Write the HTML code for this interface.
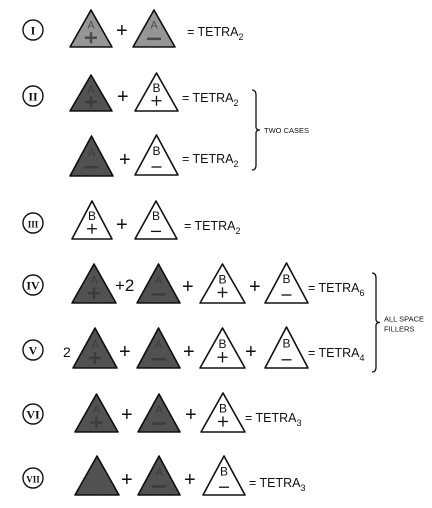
<!DOCTYPE html>
<html><head><meta charset="utf-8"><style>
html,body{margin:0;padding:0;background:#fff;}
svg{display:block;font-family:"Liberation Sans",sans-serif;}
</style></head><body>
<svg id="s" width="432" height="508" viewBox="0 0 432 508" xmlns="http://www.w3.org/2000/svg">
<defs>
<filter id="grain"><feTurbulence type="fractalNoise" baseFrequency="0.9" numOctaves="2" result="n"/><feColorMatrix type="saturate" values="0"/><feComponentTransfer><feFuncA type="linear" slope="0.35"/></feComponentTransfer><feComposite in2="SourceGraphic" operator="in"/><feBlend in="SourceGraphic" mode="multiply"/></filter>
</defs>
</svg>
<script>
const NS='http://www.w3.org/2000/svg';
const svg=document.getElementById('s');
function el(tag,attrs,parent){const e=document.createElementNS(NS,tag);for(const k in attrs)e.setAttribute(k,attrs[k]);(parent||svg).appendChild(e);return e;}
function txt(x,y,s,size,parent,anchor){const t=el('text',{x:x,y:y,'font-size':size,fill:'#111','text-anchor':anchor||'start'},parent);t.textContent=s;return t;}
function tri(x,y,w,h,kind,sign){
  const g=el('g',{});
  
  
  const fill=kind==='light'?'#9c9c9c':(kind==='B'?'#fff':'#555');
  el('polygon',{points:`${x},${y+h} ${x+w/2},${y} ${x+w},${y+h}`,fill:fill,stroke:'#111','stroke-width':1.6,'stroke-linejoin':'round',filter:kind==='B'?'':'url(#grain)'},g);
  const cx=x+w/2;
  if(kind==='B'){
    txt(cx,y+h*0.5,'B',12,g,'middle');
    if(sign==='+'){el('line',{x1:cx-5,y1:y+h*0.73,x2:cx+5,y2:y+h*0.73,stroke:'#111','stroke-width':1.3},g);el('line',{x1:cx,y1:y+h*0.6,x2:cx,y2:y+h*0.86,stroke:'#111','stroke-width':1.3},g);}
    else el('line',{x1:cx-5,y1:y+h*0.8,x2:cx+5,y2:y+h*0.8,stroke:'#111','stroke-width':1.3},g);
  } else if(sign) {
    const c=kind==='light'?'#4a4a4a':'#3c3c3c';
    txt(cx,y+h*0.5,'A',11,g,'middle').setAttribute('fill',c);
    if(sign==='+'){el('line',{x1:cx-6,y1:y+h*0.75,x2:cx+6,y2:y+h*0.75,stroke:c,'stroke-width':2.5},g);el('line',{x1:cx,y1:y+h*0.6,x2:cx,y2:y+h*0.9,stroke:c,'stroke-width':2.5},g);}
    else el('line',{x1:cx-7,y1:y+h*0.78,x2:cx+7,y2:y+h*0.78,stroke:c,'stroke-width':2.5},g);
  }
}
function roman(cy,s,name){
  const g=el('g',{});
  
  
  el('circle',{cx:33,cy:cy,r:10,fill:'none',stroke:'#111','stroke-width':1.4},g);
  const t=txt(33,cy+4.5,s,s.length>2?9:12,g,'middle');t.setAttribute('font-family','Liberation Serif, serif');t.setAttribute('font-weight','bold');
}
function op(x,y,s,name,size){const t=txt(x,y,s,size||20);}
function result(x,y,sub,name){
  const t=el('text',{x:x,y:y,'font-size':12.5,fill:'#111'});
  
  
  t.textContent='= TETRA';
  const ts=el('tspan',{dy:4,'font-size':9},t);ts.textContent=sub;
}
// Row I
roman(30,'I','label-row-1');
tri(70,10,42,37,'light','+');op(116,37,'+','plus-sign');tri(133,10,42,37,'light','-');result(187,36,'2','result-row-1');
// Row II
roman(96,'II','label-row-2');
tri(70,75,42,36,'dark','+');op(117,103,'+','plus-sign');tri(135,73,43,38,'B','+');result(182,102,'2','result-row-2a');
tri(70,136,43,40,'dark','-');op(119,166,'+','plus-sign');tri(135,135,43,40,'B','-');result(182,163,'2','result-row-2b');
// Row III
roman(223,'III','label-row-3');
tri(72,201,40,38,'B','+');op(116,231,'+','plus-sign');tri(135,201,42,38,'B','-');result(184,230,'2','result-row-3');
// Row IV
roman(285,'IV','label-row-4');
tri(72,264,44,39,'dark','+');op(115,291,'+2','plus-two',17);tri(137,264,43,39,'dark','-');op(182,293,'+','plus-sign');tri(200,264,45,39,'B','+');op(249,293,'+','plus-sign');tri(265,263,43,40,'B','-');result(308,292,'6','result-row-4');
// Row V
roman(350,'V','label-row-5');
op(63,357,'2','coefficient-two',14);tri(73,328,44,40,'dark','+');op(119,358,'+','plus-sign');tri(137,328,43,40,'dark','-');op(183,358,'+','plus-sign');tri(200,328,45,40,'B','+');op(245,358,'+','plus-sign');tri(265,327,43,41,'B','-');result(308,357,'4','result-row-5');
// Row VI
roman(414,'VI','label-row-6');
tri(75,394,43,38,'dark','+');op(121,421,'+','plus-sign');tri(138,394,42,38,'dark','-');op(185,421,'+','plus-sign');tri(201,393,44,39,'B','+');result(245,422,'3','result-row-6');
// Row VII
roman(478,'VII','label-row-7');
tri(75,456,44,39,'dark','');op(121,486,'+','plus-sign');tri(138,456,42,39,'dark','-');op(184,486,'+','plus-sign');tri(203,456,42,39,'B','-');result(249,487,'3','result-row-7');
// Braces
function brace(x,y1,y2,label1,label2,name){
  const g=el('g',{});
  
  
  const m=(y1+y2)/2;
  el('path',{d:`M${x-4},${y1} Q${x},${y1} ${x},${y1+5} L${x},${m-3} Q${x},${m} ${x+4},${m} Q${x},${m} ${x},${m+3} L${x},${y2-5} Q${x},${y2} ${x-4},${y2}`,fill:'none',stroke:'#111','stroke-width':1.3},g);
  txt(x+8,m+(label2?-1:3),label1,7.5,g);
  if(label2)txt(x+8,m+9,label2,7.5,g);
}
brace(256,90,170,'TWO CASES',null,'brace-two-cases');
brace(376,273,372,'ALL SPACE','FILLERS','brace-all-space-fillers');
</script>
</body></html>
